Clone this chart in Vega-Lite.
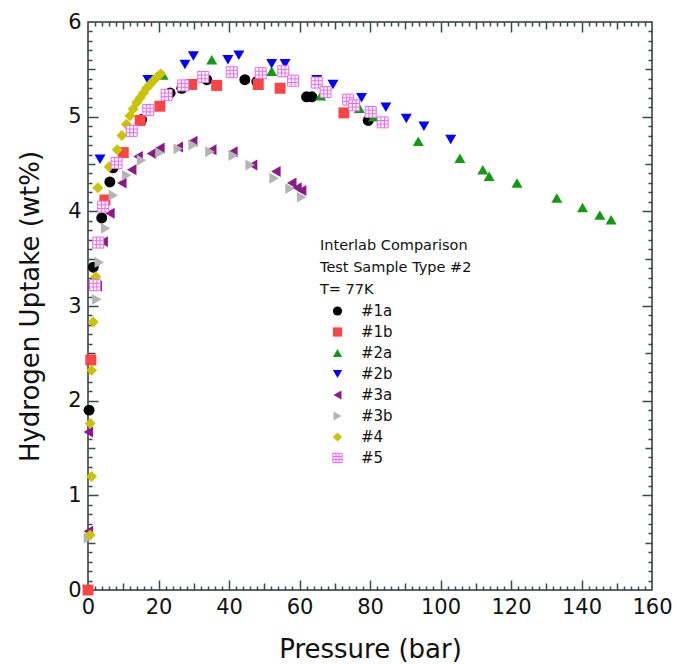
{
  "$schema": "https://vega.github.io/schema/vega-lite/v6.json",
  "width": 564,
  "height": 568,
  "autosize": "none",
  "padding": {"left": 88, "top": 22, "right": 25, "bottom": 74},
  "config": {
    "view": {"stroke": "#333", "strokeWidth": 1.5},
    "font": "DejaVu Sans",
    "axis": {"grid": false, "domain": false, "labelColor": "#111", "titleColor": "#111"}
  },
  "data": {
    "values": [
      {"s": "#1a", "p": 0.3, "u": 1.9},
      {"s": "#1a", "p": 1.5, "u": 3.41},
      {"s": "#1a", "p": 3.9, "u": 3.93},
      {"s": "#1a", "p": 6.2, "u": 4.31},
      {"s": "#1a", "p": 7.1, "u": 4.46},
      {"s": "#1a", "p": 15.2, "u": 4.97},
      {"s": "#1a", "p": 23.3, "u": 5.25},
      {"s": "#1a", "p": 26.6, "u": 5.3},
      {"s": "#1a", "p": 33.7, "u": 5.39},
      {"s": "#1a", "p": 44.5, "u": 5.39},
      {"s": "#1a", "p": 47.9, "u": 5.37},
      {"s": "#1a", "p": 62, "u": 5.21},
      {"s": "#1a", "p": 63.5, "u": 5.21},
      {"s": "#1a", "p": 79.5, "u": 4.96},
      {"s": "#1b", "p": 0, "u": 0},
      {"s": "#1b", "p": 0.8, "u": 2.43},
      {"s": "#1b", "p": 4.8, "u": 4.12},
      {"s": "#1b", "p": 10, "u": 4.62},
      {"s": "#1b", "p": 14.8, "u": 4.96},
      {"s": "#1b", "p": 20.4, "u": 5.11},
      {"s": "#1b", "p": 29.4, "u": 5.34},
      {"s": "#1b", "p": 36.5, "u": 5.33},
      {"s": "#1b", "p": 48.3, "u": 5.34},
      {"s": "#1b", "p": 54.5, "u": 5.3},
      {"s": "#1b", "p": 72.6, "u": 5.04},
      {"s": "#2a", "p": 21.3, "u": 5.44},
      {"s": "#2a", "p": 35.1, "u": 5.6},
      {"s": "#2a", "p": 52.1, "u": 5.48},
      {"s": "#2a", "p": 66, "u": 5.22},
      {"s": "#2a", "p": 77, "u": 5.09},
      {"s": "#2a", "p": 81, "u": 5.0},
      {"s": "#2a", "p": 93.7, "u": 4.74},
      {"s": "#2a", "p": 105.5, "u": 4.56},
      {"s": "#2a", "p": 112, "u": 4.44},
      {"s": "#2a", "p": 113.8, "u": 4.37},
      {"s": "#2a", "p": 121.7, "u": 4.3},
      {"s": "#2a", "p": 133, "u": 4.14},
      {"s": "#2a", "p": 140.3, "u": 4.04},
      {"s": "#2a", "p": 145.2, "u": 3.96},
      {"s": "#2a", "p": 148.4, "u": 3.91},
      {"s": "#2b", "p": 3.4, "u": 4.55},
      {"s": "#2b", "p": 17, "u": 5.39},
      {"s": "#2b", "p": 27.5, "u": 5.55},
      {"s": "#2b", "p": 29.9, "u": 5.64},
      {"s": "#2b", "p": 39.7, "u": 5.6},
      {"s": "#2b", "p": 42.8, "u": 5.65},
      {"s": "#2b", "p": 52.1, "u": 5.56},
      {"s": "#2b", "p": 55.9, "u": 5.56},
      {"s": "#2b", "p": 64.9, "u": 5.39},
      {"s": "#2b", "p": 69.5, "u": 5.34},
      {"s": "#2b", "p": 77.6, "u": 5.2},
      {"s": "#2b", "p": 84.5, "u": 5.1},
      {"s": "#2b", "p": 90.3, "u": 4.98},
      {"s": "#2b", "p": 95.3, "u": 4.9},
      {"s": "#2b", "p": 102.9, "u": 4.76},
      {"s": "#3a", "p": 0.1, "u": 0.62},
      {"s": "#3a", "p": 0.1, "u": 1.67},
      {"s": "#3a", "p": 2.6, "u": 3.21},
      {"s": "#3a", "p": 4.3, "u": 3.68},
      {"s": "#3a", "p": 6.2, "u": 3.98},
      {"s": "#3a", "p": 9.6, "u": 4.3},
      {"s": "#3a", "p": 12.4, "u": 4.44},
      {"s": "#3a", "p": 14.2, "u": 4.58},
      {"s": "#3a", "p": 18, "u": 4.61},
      {"s": "#3a", "p": 20.4, "u": 4.67},
      {"s": "#3a", "p": 25.6, "u": 4.68},
      {"s": "#3a", "p": 29.7, "u": 4.74},
      {"s": "#3a", "p": 35.1, "u": 4.65},
      {"s": "#3a", "p": 41.1, "u": 4.63},
      {"s": "#3a", "p": 46.7, "u": 4.49},
      {"s": "#3a", "p": 53.3, "u": 4.42},
      {"s": "#3a", "p": 57.8, "u": 4.3},
      {"s": "#3a", "p": 59.3, "u": 4.25},
      {"s": "#3a", "p": 60.6, "u": 4.22},
      {"s": "#3b", "p": 0.1, "u": 0.55},
      {"s": "#3b", "p": 2.5, "u": 3.07},
      {"s": "#3b", "p": 3.2, "u": 3.46},
      {"s": "#3b", "p": 5, "u": 3.82},
      {"s": "#3b", "p": 7.2, "u": 4.17},
      {"s": "#3b", "p": 11, "u": 4.38},
      {"s": "#3b", "p": 15.2, "u": 4.54},
      {"s": "#3b", "p": 20.4, "u": 4.62},
      {"s": "#3b", "p": 25.6, "u": 4.66},
      {"s": "#3b", "p": 29.8, "u": 4.7},
      {"s": "#3b", "p": 34.6, "u": 4.63},
      {"s": "#3b", "p": 41.2, "u": 4.59},
      {"s": "#3b", "p": 46, "u": 4.49},
      {"s": "#3b", "p": 52.8, "u": 4.35},
      {"s": "#3b", "p": 57.3, "u": 4.24},
      {"s": "#3b", "p": 60.6, "u": 4.15},
      {"s": "#4", "p": 0.6, "u": 0.58},
      {"s": "#4", "p": 1.0, "u": 1.2},
      {"s": "#4", "p": 0.6, "u": 1.76},
      {"s": "#4", "p": 1.0, "u": 2.32},
      {"s": "#4", "p": 1.5, "u": 2.83},
      {"s": "#4", "p": 2.2, "u": 3.31},
      {"s": "#4", "p": 2.8, "u": 4.25},
      {"s": "#4", "p": 6.0, "u": 4.47},
      {"s": "#4", "p": 8.3, "u": 4.65},
      {"s": "#4", "p": 9.6, "u": 4.8},
      {"s": "#4", "p": 10.9, "u": 4.92},
      {"s": "#4", "p": 11.9, "u": 5.01},
      {"s": "#4", "p": 12.8, "u": 5.08},
      {"s": "#4", "p": 13.8, "u": 5.15},
      {"s": "#4", "p": 14.8, "u": 5.2},
      {"s": "#4", "p": 15.7, "u": 5.25},
      {"s": "#4", "p": 16.6, "u": 5.3},
      {"s": "#4", "p": 17.6, "u": 5.34},
      {"s": "#4", "p": 18.5, "u": 5.38},
      {"s": "#4", "p": 19.6, "u": 5.42},
      {"s": "#4", "p": 20.6, "u": 5.45},
      {"s": "#5", "p": 2.0, "u": 3.22},
      {"s": "#5", "p": 2.9, "u": 3.67},
      {"s": "#5", "p": 4.3, "u": 4.05},
      {"s": "#5", "p": 8.1, "u": 4.51},
      {"s": "#5", "p": 12.4, "u": 4.85},
      {"s": "#5", "p": 17.1, "u": 5.07},
      {"s": "#5", "p": 22.3, "u": 5.23},
      {"s": "#5", "p": 27, "u": 5.33},
      {"s": "#5", "p": 32.7, "u": 5.42},
      {"s": "#5", "p": 40.8, "u": 5.47},
      {"s": "#5", "p": 49, "u": 5.46},
      {"s": "#5", "p": 55.4, "u": 5.48},
      {"s": "#5", "p": 58.2, "u": 5.38},
      {"s": "#5", "p": 64.9, "u": 5.36},
      {"s": "#5", "p": 67.4, "u": 5.26},
      {"s": "#5", "p": 73.8, "u": 5.18},
      {"s": "#5", "p": 75.5, "u": 5.12},
      {"s": "#5", "p": 80.2, "u": 5.05},
      {"s": "#5", "p": 83.6, "u": 4.94}
    ]
  },
  "layer": [
    {
      "mark": {"type": "point", "filled": true, "size": 120, "strokeWidth": 1, "opacity": 1},
      "encoding": {
        "x": {"field": "p", "type": "quantitative", "scale": {"domain": [0, 160], "nice": false, "zero": false},
          "axis": {"orient": "bottom", "values": [0, 20, 40, 60, 80, 100, 120, 140, 160], "ticks": false, "labelFontSize": 21, "labelPadding": 6, "labelFlush": false, "title": "Pressure (bar)", "titleFontSize": 26, "titleFontWeight": "normal", "titlePadding": 19}},
        "y": {"field": "u", "type": "quantitative", "scale": {"domain": [0, 6], "nice": false},
          "axis": {"orient": "left", "values": [0, 1, 2, 3, 4, 5, 6], "ticks": false, "labelFontSize": 21, "labelPadding": 7, "labelFlush": false, "title": "Hydrogen Uptake (wt%)", "titleFontSize": 26, "titleFontWeight": "normal", "titlePadding": 24}},
        "fill": {"field": "s", "type": "nominal",
          "scale": {"domain": ["#1a", "#1b", "#2a", "#2b", "#3a", "#3b", "#4", "#5"], "range": ["#000000", "#f94545", "#139a13", "#0000ff", "#8a1a8a", "#b4b4b4", "#c8c400", "#ffffff"]},
          "legend": {"orient": "none", "legendX": 232, "legendY": 217, "title": ["Interlab Comparison", "Test Sample Type #2", "T= 77K"], "titleFontSize": 14.5, "titleFontWeight": "normal", "titleLineHeight": 22, "titleBaseline": "top", "titlePadding": 6, "titleColor": "#111", "labelFontSize": 15, "labelColor": "#111", "symbolSize": 85, "symbolOffset": 10, "labelOffset": 16, "rowPadding": 5, "padding": 0, "symbolStrokeWidth": 1}},
        "stroke": {"field": "s", "type": "nominal",
          "scale": {"domain": ["#1a", "#1b", "#2a", "#2b", "#3a", "#3b", "#4", "#5"], "range": ["transparent", "transparent", "transparent", "transparent", "transparent", "transparent", "transparent", "#ee66ee"]}},
        "shape": {"field": "s", "type": "nominal",
          "scale": {"domain": ["#1a", "#1b", "#2a", "#2b", "#3a", "#3b", "#4", "#5"], "range": ["circle", "square", "triangle-up", "triangle-down", "triangle-left", "triangle-right", "diamond", "M-1,-1H1V1H-1Z M-0.333,-1V1 M0.333,-1V1 M-1,-0.333H1 M-1,0.333H1"]}}
      }
    },
    {
      "mark": {"type": "point", "size": 0},
      "encoding": {
        "x": {"field": "p", "type": "quantitative", "axis": {"orient": "bottom", "offset": -4, "values": [2,4,6,8,12,14,16,18,22,24,26,28,32,34,36,38,42,44,46,48,52,54,56,58,62,64,66,68,72,74,76,78,82,84,86,88,92,94,96,98,102,104,106,108,112,114,116,118,122,124,126,128,132,134,136,138,142,144,146,148,152,154,156,158], "labels": false, "ticks": true, "tickSize": 4, "tickColor": "darkslategray", "tickWidth": 1.5, "title": null}},
        "y": {"field": "u", "type": "quantitative", "axis": {"orient": "left", "offset": -4, "values": [0.1,0.2,0.3,0.4,0.6,0.7,0.8,0.9,1.1,1.2,1.3,1.4,1.6,1.7,1.8,1.9,2.1,2.2,2.3,2.4,2.6,2.7,2.8,2.9,3.1,3.2,3.3,3.4,3.6,3.7,3.8,3.9,4.1,4.2,4.3,4.4,4.6,4.7,4.8,4.9,5.1,5.2,5.3,5.4,5.6,5.7,5.8,5.9], "labels": false, "ticks": true, "tickSize": 4, "tickColor": "darkslategray", "tickWidth": 1.5, "title": null}}
      }
    },
    {
      "mark": {"type": "point", "size": 0},
      "encoding": {
        "x": {"field": "p", "type": "quantitative", "axis": {"orient": "bottom", "offset": -7, "values": [10,30,50,70,90,110,130,150], "labels": false, "ticks": true, "tickSize": 7, "tickColor": "darkslategray", "tickWidth": 1.5, "title": null}},
        "y": {"field": "u", "type": "quantitative", "axis": {"orient": "left", "offset": -7, "values": [0.5,1.5,2.5,3.5,4.5,5.5], "labels": false, "ticks": true, "tickSize": 7, "tickColor": "darkslategray", "tickWidth": 1.5, "title": null}}
      }
    },
    {
      "mark": {"type": "point", "size": 0},
      "encoding": {
        "x": {"field": "p", "type": "quantitative", "axis": {"orient": "bottom", "offset": -10, "values": [20,40,60,80,100,120,140], "labels": false, "ticks": true, "tickSize": 10, "tickColor": "darkslategray", "tickWidth": 1.5, "title": null}},
        "y": {"field": "u", "type": "quantitative", "axis": {"orient": "left", "offset": -10, "values": [1,2,3,4,5], "labels": false, "ticks": true, "tickSize": 10, "tickColor": "darkslategray", "tickWidth": 1.5, "title": null}}
      }
    },
    {
      "mark": {"type": "point", "size": 0},
      "encoding": {
        "x": {"field": "p", "type": "quantitative", "axis": {"orient": "top", "offset": -4, "values": [2,4,6,8,12,14,16,18,22,24,26,28,32,34,36,38,42,44,46,48,52,54,56,58,62,64,66,68,72,74,76,78,82,84,86,88,92,94,96,98,102,104,106,108,112,114,116,118,122,124,126,128,132,134,136,138,142,144,146,148,152,154,156,158], "labels": false, "ticks": true, "tickSize": 4, "tickColor": "darkslategray", "tickWidth": 1.5, "title": null}},
        "y": {"field": "u", "type": "quantitative", "axis": {"orient": "right", "offset": -4, "values": [0.1,0.2,0.3,0.4,0.6,0.7,0.8,0.9,1.1,1.2,1.3,1.4,1.6,1.7,1.8,1.9,2.1,2.2,2.3,2.4,2.6,2.7,2.8,2.9,3.1,3.2,3.3,3.4,3.6,3.7,3.8,3.9,4.1,4.2,4.3,4.4,4.6,4.7,4.8,4.9,5.1,5.2,5.3,5.4,5.6,5.7,5.8,5.9], "labels": false, "ticks": true, "tickSize": 4, "tickColor": "darkslategray", "tickWidth": 1.5, "title": null}}
      }
    },
    {
      "mark": {"type": "point", "size": 0},
      "encoding": {
        "x": {"field": "p", "type": "quantitative", "axis": {"orient": "top", "offset": -7, "values": [10,30,50,70,90,110,130,150], "labels": false, "ticks": true, "tickSize": 7, "tickColor": "darkslategray", "tickWidth": 1.5, "title": null}},
        "y": {"field": "u", "type": "quantitative", "axis": {"orient": "right", "offset": -7, "values": [0.5,1.5,2.5,3.5,4.5,5.5], "labels": false, "ticks": true, "tickSize": 7, "tickColor": "darkslategray", "tickWidth": 1.5, "title": null}}
      }
    },
    {
      "mark": {"type": "point", "size": 0},
      "encoding": {
        "x": {"field": "p", "type": "quantitative", "axis": {"orient": "top", "offset": -10, "values": [20,40,60,80,100,120,140], "labels": false, "ticks": true, "tickSize": 10, "tickColor": "darkslategray", "tickWidth": 1.5, "title": null}},
        "y": {"field": "u", "type": "quantitative", "axis": {"orient": "right", "offset": -10, "values": [1,2,3,4,5], "labels": false, "ticks": true, "tickSize": 10, "tickColor": "darkslategray", "tickWidth": 1.5, "title": null}}
      }
    }
  ],
  "resolve": {"axis": {"x": "independent", "y": "independent"}}
}
